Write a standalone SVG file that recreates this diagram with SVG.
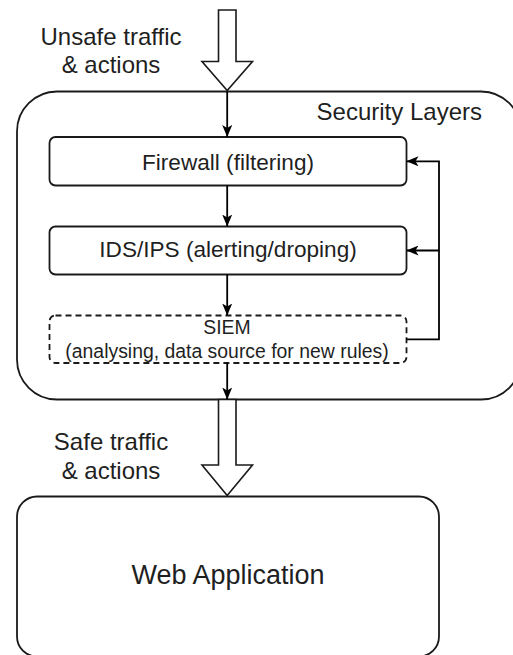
<svg xmlns="http://www.w3.org/2000/svg" width="513" height="655" viewBox="0 0 513 655">
  <defs>
    <style>
      .box { fill: #ffffff; stroke: #1a1a1a; stroke-width: 1.8; }
      .dash { stroke-dasharray: 6 4; }
      .wire { fill: none; stroke: #000000; stroke-width: 1.8; }
      .flow { fill: #ffffff; stroke: #1a1a1a; stroke-width: 1.6; stroke-linejoin: miter; }
      text { font-family: "Liberation Sans", Arial, Helvetica, sans-serif; fill: #1f1f1f; }
      .lbl { font-size: 24px; }
      .mid { text-anchor: middle; }
    </style>
    <marker id="head" viewBox="0 0 12 10" refX="12" refY="5" markerWidth="12" markerHeight="10" markerUnits="userSpaceOnUse" orient="auto">
      <path d="M0,0 L12,5 L0,10 L3,5 Z" fill="#000000"/>
    </marker>
  </defs>

  <!-- outer security container -->
  <g id="security-layers">
    <rect class="box" x="17" y="91.5" width="504" height="308" rx="40" ry="40"/>
    <text class="lbl" x="482" y="120" text-anchor="end">Security Layers</text>
  </g>

  <!-- inbound traffic label -->
  <g id="unsafe-label">
    <text class="lbl mid" x="111" y="45">Unsafe traffic</text>
    <text class="lbl mid" x="111" y="73">&amp; actions</text>
  </g>

  <!-- outbound traffic label -->
  <g id="safe-label">
    <text class="lbl mid" x="111" y="450">Safe traffic</text>
    <text class="lbl mid" x="111" y="479">&amp; actions</text>
  </g>

  <g id="firewall">
    <rect class="box" x="49.5" y="137" width="357" height="48.5" rx="6" ry="6"/>
    <text class="mid" x="228" y="169.5" font-size="22.6">Firewall (filtering)</text>
  </g>

  <g id="ids-ips">
    <rect class="box" x="49.5" y="226.5" width="357" height="48" rx="6" ry="6"/>
    <text class="mid" x="228" y="257" font-size="22.6">IDS/IPS (alerting/droping)</text>
  </g>

  <g id="siem">
    <rect class="box dash" x="49.5" y="315.5" width="357" height="47.5" rx="6" ry="6"/>
    <text class="mid" x="227" y="333.5" font-size="19.4">SIEM</text>
    <text class="mid" x="227" y="357.5" font-size="19.4">(analysing, data source for new rules)</text>
  </g>

  <g id="web-application">
    <rect class="box" x="17" y="496.5" width="422" height="160" rx="20" ry="20"/>
    <text class="mid" x="228" y="583.5" font-size="27">Web Application</text>
  </g>

  <g id="connectors">
    <!-- wide flow arrows in and out of the security layers -->
    <polygon class="flow" points="218.5,10 236,10 236,61.5 252.5,61.5 227.2,90.5 202,61.5 218.5,61.5"/>
    <polygon class="flow" points="218.5,399.5 236,399.5 236,465 252.5,465 227.2,495.5 202,465 218.5,465"/>

    <!-- main chain -->
    <line class="wire" x1="227.2" y1="91.5" x2="227.2" y2="137" marker-end="url(#head)"/>
    <line class="wire" x1="227.2" y1="185.5" x2="227.2" y2="226.5" marker-end="url(#head)"/>
    <line class="wire" x1="227.2" y1="274.5" x2="227.2" y2="315.5" marker-end="url(#head)"/>
    <line class="wire" x1="227.2" y1="363" x2="227.2" y2="399.5" marker-end="url(#head)"/>

    <!-- SIEM feedback to rule sources -->
    <polyline class="wire" points="406.5,339.3 439,339.3 439,161.3 406.5,161.3" marker-end="url(#head)"/>
    <polyline class="wire" points="439,250.5 406.5,250.5" marker-end="url(#head)"/>
  </g>
</svg>
